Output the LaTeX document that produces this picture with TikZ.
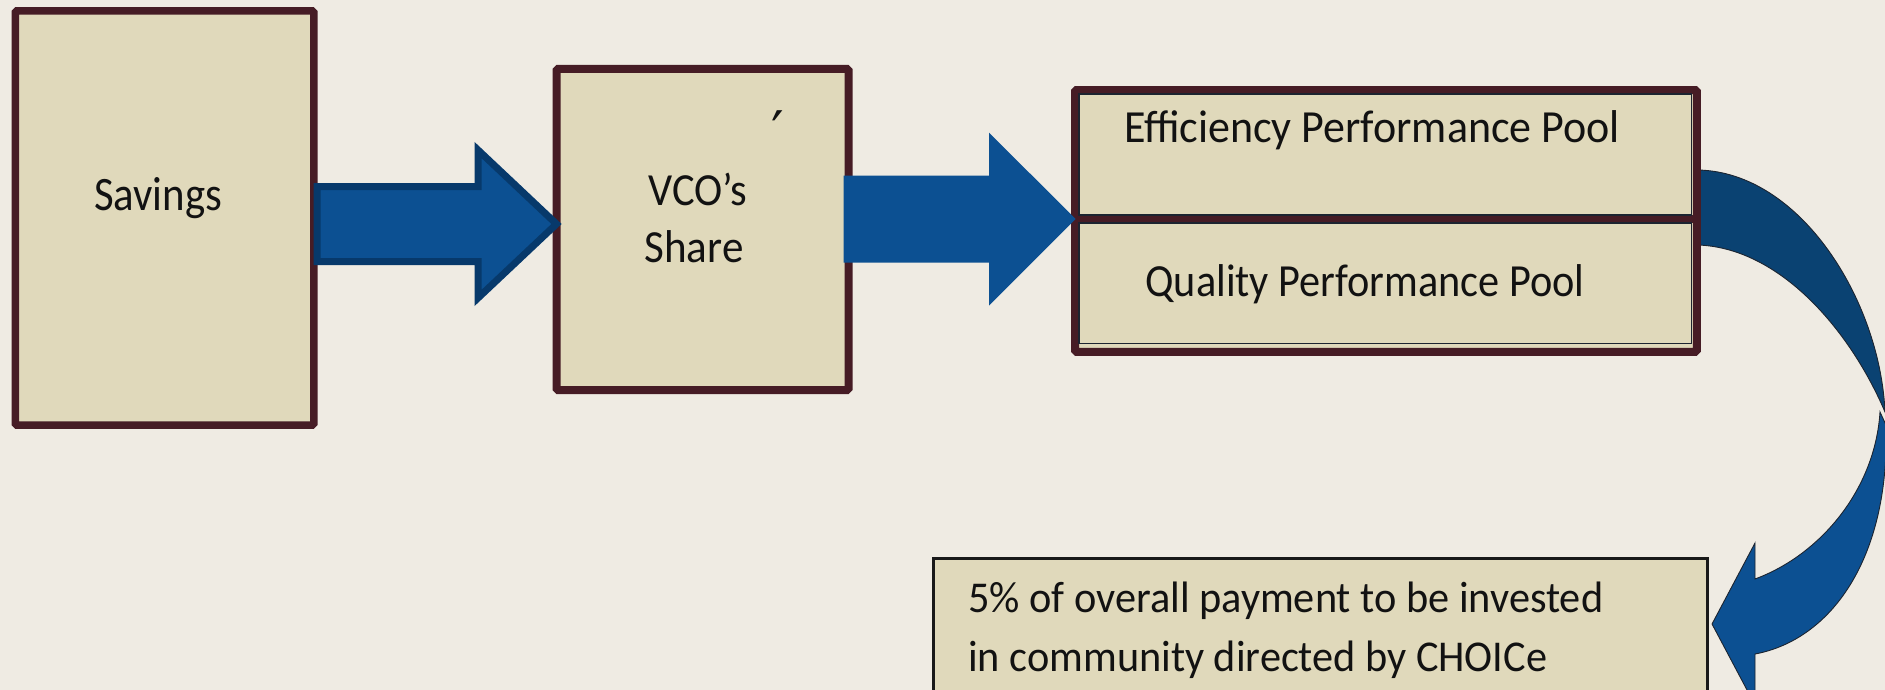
\documentclass[tikz,border=0pt]{standalone}
\usepackage{fontspec}
\setmainfont{Carlito}
\newfontfamily\symfont{DejaVu Sans}
\usepackage{graphicx}

\definecolor{bg}{HTML}{EFEBE3}
\definecolor{boxfill}{HTML}{E0D9BB}
\definecolor{boxline}{HTML}{461C25}
\definecolor{arrowblue}{HTML}{0C5092}
\definecolor{arrowedge}{HTML}{07396B}
\definecolor{curvedark}{HTML}{0A4272}
\definecolor{inkline}{HTML}{1C2430}

% squeeze a text horizontally to a given width, keeping its height
\newcommand\fitw[2]{\resizebox{#1}{\height}{#2}}

\begin{document}
\begin{tikzpicture}[x=1pt,y=-1pt,
  box/.style={draw=boxline, fill=boxfill, line width=7.5pt, rounded corners=1.5pt,
              inner sep=0pt, line join=miter},
  txt/.style={inner sep=0pt, text=black!93, font=\fontsize{46}{55}\selectfont, anchor=base},
  txtleft/.style={txt, anchor=base west, font=\fontsize{44}{53}\selectfont},
  blockarrow/.style={fill=arrowblue, line join=miter},
  curvepart/.style={draw=inkline, line width=0.9pt, line join=miter}
]
\useasboundingbox (0,0) rectangle (1885,690);
\clip (0,0) rectangle (1885,690);
\fill[bg] (0,0) rectangle (1885,690);

% curved arrow leaving the pools and turning back into the note box
\path[curvepart, fill=curvedark]
  (1698,170) .. controls (1800,172) and (1880,300) .. (1885,412)
  .. controls (1850,330) and (1780,248) .. (1698,245) -- cycle;
\path[curvepart, fill=arrowblue]
  (1880,412) .. controls (1875,490) and (1820,555) .. (1755,579)
  -- (1755,543) -- (1712,624) -- (1755,705) -- (1755,654)
  .. controls (1830,640) and (1890,560) .. (1886,425) -- cycle;

% boxes
\node[box, minimum width=298.5pt, minimum height=414pt] (sav) at (164.5,218) {};
\node[box, line width=8pt, minimum width=292pt, minimum height=321pt] (vco) at (702.5,229.5) {};
\node[box, line width=8pt, minimum width=621.7pt, minimum height=261.7pt] (pool) at (1385.9,220.9) {};
\coordinate (divL) at (1075,219);
\coordinate (divR) at (1696.7,219);
\draw[draw=boxline, line width=8pt] (divL) -- (divR);
% thin inner frames of the two pool cells
\draw[inkline, line width=1.3pt] (1079,94) rectangle (1691.5,215);
\draw[inkline, line width=1.3pt] (1079,223) rectangle (1691.5,343.3);

\node[draw=black!90, line width=3pt, fill=boxfill, inner sep=0pt,
      minimum width=774pt, minimum height=160pt] (note) at (1320,638) {};

% block arrows between the boxes
\draw[blockarrow, draw=arrowedge, line width=7pt]
  (317,186.5) -- (478,186.5) -- (478,150) -- (556.5,224) -- (478,298)
  -- (478,261.5) -- (317,261.5) -- cycle;
\fill[blockarrow]
  (843.6,175.7) -- (989,175.7) -- (989,132.7) -- (1075.7,219) -- (989,305.7)
  -- (989,262.7) -- (843.6,262.7) -- cycle;

% texts
\node[txt, font=\fontsize{48}{56}\selectfont] (tsav) at (158,210) {\fitw{128pt}{Savings}};
\node[txt] (tvco) at (698,205.7) {\fitw{99pt}{VCO’s}};
\node[txt] (tshare) at (694,262.3) {\fitw{99pt}{Share}};
\node[txt, font=\symfont\fontsize{56}{64}\selectfont] (tprime) at (777.5,152) {′};
\node[txt] (teff) at (1372,142.7) {\fitw{496pt}{Efficiency Performance Pool}};
\node[txt] (tqual) at (1365,296.7) {\fitw{439pt}{Quality Performance Pool}};
\node[txtleft] (tnote1) at (968,612.3) {\fitw{635pt}{5\% of overall payment to be invested}};
\node[txtleft] (tnote2) at (968,671) {\fitw{579pt}{in community directed by CHOICe}};
\end{tikzpicture}
\end{document}
